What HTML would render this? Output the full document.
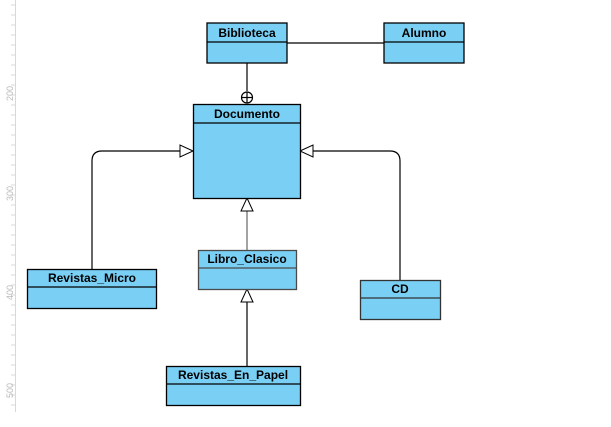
<!DOCTYPE html>
<html><head><meta charset="utf-8"><style>
html,body{margin:0;padding:0;background:#fff;width:611px;height:427px;overflow:hidden}
svg{position:absolute;left:0;top:0}
text{font-family:"Liberation Sans",Arial,sans-serif}
</style></head><body>
<svg width="611" height="427" viewBox="0 0 611 427">
<!-- ruler -->
<line x1="15.5" y1="0" x2="15.5" y2="412" stroke="#d8d8d8"/>
<g stroke="#d8d8d8">
<path d="M11 5h4M11 15h4M11 25h4M11 35h4M11 45h4M11 55h4M11 65h4M11 75h4M11 85h4M11 95h4M11 105h4M11 115h4M11 125h4M11 135h4M11 145h4M11 155h4M11 165h4M11 175h4M11 185h4M11 195h4M11 205h4M11 215h4M11 225h4M11 235h4M11 245h4M11 255h4M11 265h4M11 275h4M11 285h4M11 295h4M11 305h4M11 315h4M11 325h4M11 335h4M11 345h4M11 355h4M11 365h4M11 375h4M11 385h4M11 395h4M11 405h4"/>
</g>
<g fill="#bbb" font-size="9">
<text transform="translate(13,101) rotate(-90)">200</text>
<text transform="translate(13,201) rotate(-90)">300</text>
<text transform="translate(13,300) rotate(-90)">400</text>
<text transform="translate(13,398) rotate(-90)">500</text>
</g>
<!-- connectors -->
<g fill="none" stroke="#000" stroke-width="1.2">
<line x1="287" y1="43" x2="384" y2="43"/>
<line x1="247" y1="63" x2="247" y2="91"/>
<circle cx="247" cy="97.5" r="5.5" fill="#fff"/>
<line x1="241.5" y1="97.5" x2="252.5" y2="97.5"/>
<line x1="247" y1="92" x2="247" y2="103"/>
<path d="M92 269V161Q92 151 102 151H180"/>
<path d="M400 280V161Q400 151 390 151H313"/>
<line x1="247" y1="250" x2="247" y2="211" stroke="#666"/>
<line x1="247" y1="366" x2="247" y2="302"/>
</g>
<g fill="#fff" stroke="#000" stroke-width="1">
<polygon points="193,151 180,145 180,157"/>
<polygon points="300,151 313,145 313,157"/>
<polygon points="247,198 241,211 253,211"/>
<polygon points="247,289 241,302 253,302"/>
</g>
<!-- classes -->
<g fill="#7acff5" stroke="#000" stroke-width="1.3">
<rect x="207" y="23" width="80" height="40"/><line x1="207" y1="42" x2="287" y2="42"/>
<rect x="384" y="23" width="80" height="40"/><line x1="384" y1="42" x2="464" y2="42"/>
<rect x="193.5" y="104.5" width="107" height="94"/><line x1="193" y1="123" x2="300" y2="123"/>
<rect x="27.5" y="269.5" width="129" height="39"/><line x1="27" y1="287" x2="156" y2="287"/>
<rect x="198.5" y="250.5" width="98" height="39" stroke="#4a4a4a"/><line x1="198" y1="268" x2="296" y2="268" stroke="#4a4a4a"/>
<rect x="360.5" y="280.5" width="80" height="39" stroke="#333"/><line x1="360" y1="298" x2="440" y2="298" stroke="#333"/>
<rect x="166.5" y="366.5" width="134" height="39"/><line x1="166" y1="384" x2="300" y2="384"/>
</g>
<g font-size="12" font-weight="bold" text-anchor="middle" fill="#000">
<text x="247" y="37">Biblioteca</text>
<text x="424" y="37">Alumno</text>
<text x="247" y="118">Documento</text>
<text x="92" y="282">Revistas_Micro</text>
<text x="247" y="263">Libro_Clasico</text>
<text x="400" y="293">CD</text>
<text x="233" y="379">Revistas_En_Papel</text>
</g>
</svg>
</body></html>
